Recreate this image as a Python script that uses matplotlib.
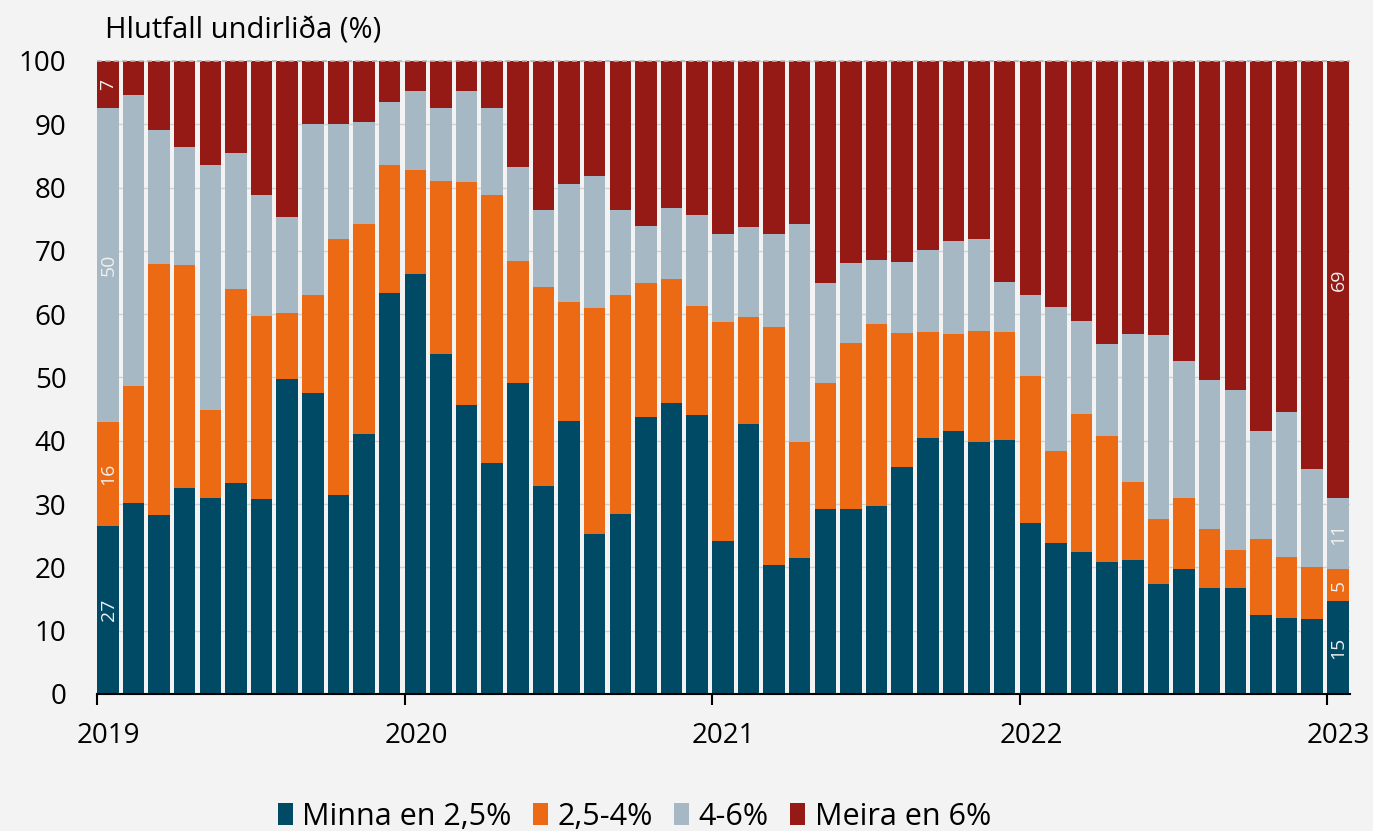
import numpy as np
import matplotlib
matplotlib.use("Agg")
import matplotlib.pyplot as plt
from matplotlib.patches import Patch

# monthly shares (%), Jan 2019 - Jan 2023
minna_25 = [26.6, 30.2, 28.3, 32.5, 30.9, 33.3, 30.8, 49.8, 47.6, 31.5, 41.1, 63.3,
            66.3, 53.7, 45.6, 36.5, 49.2, 32.9, 43.1, 25.2, 28.4, 43.8, 45.9, 44.0,
            24.2, 42.7, 20.3, 21.5, 29.2, 29.2, 29.7, 35.9, 40.4, 41.6, 39.8, 40.1,
            27.0, 23.8, 22.4, 20.8, 21.1, 17.4, 19.7, 16.8, 16.7, 12.4, 12.0, 11.8,
            14.7]
milli_25_4 = [16.3, 18.5, 39.6, 35.2, 13.9, 30.7, 28.9, 10.4, 15.5, 40.3, 33.2, 20.3,
              16.4, 27.4, 35.3, 42.3, 19.2, 31.4, 18.9, 35.8, 34.7, 21.1, 19.7, 17.3,
              34.6, 16.9, 37.6, 18.3, 20.0, 26.3, 28.8, 21.1, 16.8, 15.3, 17.6, 17.1,
              23.3, 14.6, 21.9, 19.9, 12.4, 10.3, 11.2, 9.3, 6.0, 12.1, 9.6, 8.3,
              5.0]
milli_4_6 = [49.7, 46.0, 21.2, 18.7, 38.8, 21.5, 19.2, 15.2, 26.9, 18.3, 16.0, 9.9,
             12.6, 11.5, 14.4, 13.7, 14.8, 12.2, 18.6, 20.8, 13.3, 9.0, 11.2, 14.4,
             13.9, 14.1, 14.8, 34.5, 15.7, 12.6, 10.1, 11.3, 13.0, 14.7, 14.4, 7.9,
             12.8, 22.8, 14.7, 14.6, 23.4, 29.0, 21.7, 23.5, 25.3, 17.0, 22.9, 15.5,
             11.2]
meira_6 = [7.4, 5.3, 10.9, 13.6, 16.4, 14.5, 21.1, 24.6, 10.0, 9.9, 9.7, 6.5,
           4.7, 7.4, 4.7, 7.5, 16.8, 23.5, 19.4, 18.2, 23.6, 26.1, 23.2, 24.3,
           27.3, 26.3, 27.3, 25.7, 35.1, 31.9, 31.4, 31.7, 29.8, 28.4, 28.2, 34.9,
           36.9, 38.8, 41.0, 44.7, 43.1, 43.3, 47.4, 50.4, 52.0, 58.5, 55.5, 64.4,
           69.1]

series = [minna_25, milli_25_4, milli_4_6, meira_6]
labels = ["Minna en 2,5%", "2,5-4%", "4-6%", "Meira en 6%"]
colors = ["#014a66", "#ec6a13", "#a6b8c3", "#951915"]
years = ["2019", "2020", "2021", "2022", "2023"]

bg = "#f3f3f3"
plt.rcParams['font.family'] = ['Open Sans', 'DejaVu Sans']

fig = plt.figure(figsize=(13.73, 8.31), dpi=100, facecolor=bg)
ax = fig.add_axes([0.0707, 0.1649, 0.9126, 0.7617], facecolor=bg)

x = np.arange(len(minna_25))
bottom = np.zeros(len(x))
for vals, col in zip(series, colors):
    vals = np.array(vals)
    ax.bar(x, vals, width=0.84, bottom=bottom, align='edge', color=col,
           linewidth=0, zorder=3)
    # value labels on first and last bar
    for i in (0, len(x) - 1):
        ax.text(x[i] + 0.45, bottom[i] + vals[i] / 2, f"{vals[i]:.0f}", rotation=90,
                ha='center', va='center', color='#f0f0f0', fontsize=14, zorder=4)
    bottom += vals

ax.set_ylim(0, 100)
ax.set_xlim(0, 48.9)
ax.set_yticks(np.arange(0, 101, 10))
ax.yaxis.grid(True, color='#d2d2d2', linewidth=1, zorder=0)
ax.axhline(100, color='#b8b8b8', linewidth=1.2, linestyle=(0, (3, 2)), zorder=5, clip_on=False)

ax.set_xticks(np.arange(0, 49, 12))
ax.set_xticklabels([])
ax.set_xticks(np.arange(0, 49, 12) + 0.45, minor=True)
ax.set_xticklabels(years, minor=True)
ax.tick_params(axis='x', which='major', direction='out', length=8, width=1.5, color='black')
ax.tick_params(axis='x', which='minor', length=0, pad=20, labelsize=20)
ax.tick_params(axis='y', length=0, pad=22, labelsize=20)

for s in ['top', 'right', 'left']:
    ax.spines[s].set_visible(False)
ax.spines['bottom'].set_linewidth(1.5)
ax.spines['bottom'].set_zorder(6)

fig.text(0.0765, 0.963, "Hlutfall undirliða (%)", fontsize=21, ha='left', va='center')

handles = [Patch(facecolor=c, edgecolor='none') for c in colors]
fig.legend(handles, labels, loc='lower center', bbox_to_anchor=(0.462, -0.034), ncol=4,
           frameon=False, fontsize=22, handlelength=0.5, handleheight=0.75,
           handletextpad=0.3, columnspacing=0.7)

fig.savefig("out.png", dpi=100, facecolor=bg)
